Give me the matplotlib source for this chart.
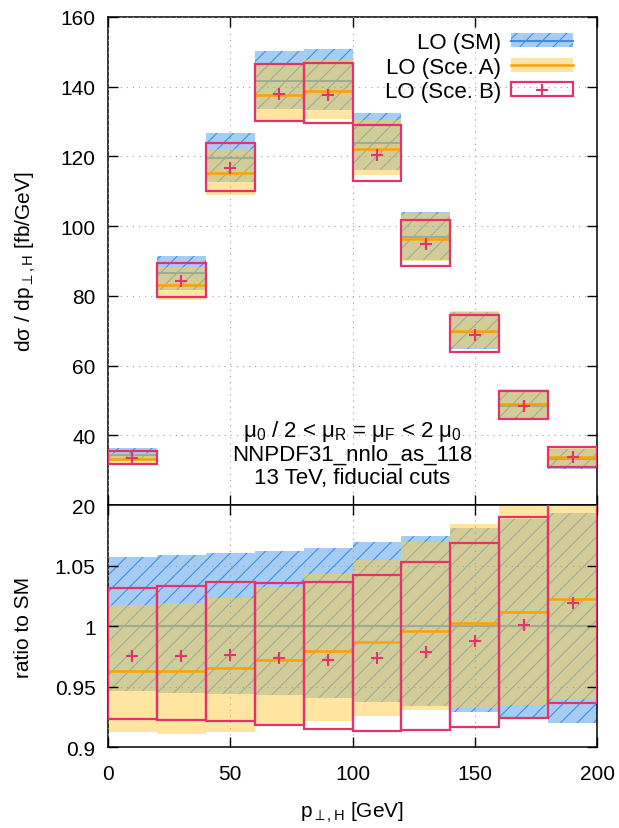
import numpy as np
import matplotlib
matplotlib.use('Agg')
import matplotlib.pyplot as plt
from matplotlib.patches import Patch
from matplotlib.lines import Line2D
from matplotlib.legend_handler import HandlerTuple

plt.rcParams['font.family'] = ['Liberation Sans', 'DejaVu Sans']
plt.rcParams['mathtext.fontset'] = 'custom'
plt.rcParams['mathtext.rm'] = 'Liberation Sans'
plt.rcParams['mathtext.it'] = 'Liberation Sans:italic'
plt.rcParams['mathtext.bf'] = 'Liberation Sans:bold'
plt.rcParams['hatch.linewidth'] = 0.8

# p_T,H bins [GeV]
edges = np.arange(0, 201, 20)

# SM central prediction per bin [fb/GeV]
sm_central = np.array([34.4, 86.5, 119.5, 141.6, 141.7, 123.8, 96.8, 69.7, 48.3, 33.1])

# scale variation bands, normalised to the SM central value
sm_hi = np.array([1.0568, 1.0587, 1.0603, 1.0620, 1.0647, 1.0691, 1.0741, 1.0807, 1.0884, 1.0934])
sm_lo = np.array([0.9465, 0.9446, 0.9438, 0.9430, 0.9405, 0.9375, 0.9336, 0.9292, 0.9242, 0.9198])

a_central = np.array([0.9628, 0.9625, 0.9650, 0.9719, 0.9791, 0.9868, 0.9956, 1.0027, 1.0116, 1.0223])
a_hi = np.array([1.0176, 1.0190, 1.0231, 1.0322, 1.0427, 1.0548, 1.0691, 1.0840, 1.1020, 1.1050])
a_lo = np.array([0.9121, 0.9105, 0.9121, 0.9188, 0.9218, 0.9259, 0.9306, 0.9320, 0.9350, 0.9397])

b_central = np.array([0.9749, 0.9755, 0.9763, 0.9738, 0.9722, 0.9736, 0.9788, 0.9874, 1.0008, 1.0190])
b_hi = np.array([1.0311, 1.0333, 1.0361, 1.0355, 1.0366, 1.0419, 1.0526, 1.0689, 1.0901, 1.1090])
b_lo = np.array([0.9231, 0.9220, 0.9215, 0.9185, 0.9149, 0.9130, 0.9138, 0.9162, 0.9240, 0.9364])

labels = ['LO (SM)', 'LO (Sce. A)', 'LO (Sce. B)']

blue_fc = (0.23, 0.56, 0.91, 0.45)
blue_ln = '#3d8fe3'
yellow_fc = (1.0, 0.80, 0.25, 0.5)
orange = '#ffa000'
pink = '#e2336b'
grid_kw = dict(color='#a0a0a0', lw=0.8, ls=(0, (1, 4.5)))


def draw(ax, norm):
    left = edges[:-1]
    w = np.diff(edges)
    ax.bar(left, (sm_hi - sm_lo) * norm, bottom=sm_lo * norm, width=w, align='edge',
           facecolor=blue_fc, edgecolor=blue_ln, hatch='//', linewidth=0, zorder=1)
    ax.hlines(norm * np.ones(len(left)), left, left + w, color=blue_ln, lw=1.5, zorder=1.1)
    ax.bar(left, (a_hi - a_lo) * norm, bottom=a_lo * norm, width=w, align='edge',
           facecolor=yellow_fc, linewidth=0, zorder=1.2)
    ax.hlines(a_central * norm, left, left + w, color=orange, lw=1.8, zorder=3)
    ax.bar(left, (b_hi - b_lo) * norm, bottom=b_lo * norm, width=w, align='edge',
           facecolor='none', edgecolor=pink, linewidth=1.6, zorder=3.1)
    ax.plot(left + w / 2, b_central * norm, '+', color=pink, ms=9, mew=1.5,
            ls='none', zorder=3.2)

    ax.set_xlim(0, 200)
    ax.set_xticks([0, 50, 100, 150, 200])
    ax.grid(True, zorder=2.5, **grid_kw)
    ax.set_axisbelow(False)
    ax.tick_params(direction='in', top=True, right=True, length=7, width=1,
                   labelsize=15, pad=9)
    for s in ax.spines.values():
        s.set_linewidth(1.1)


fig = plt.figure(figsize=(6.19, 8.29), dpi=100)
ax1 = fig.add_axes([0.1745, 0.3896, 0.7900, 0.5887])
ax2 = fig.add_axes([0.1745, 0.0977, 0.7900, 0.2919])

draw(ax1, sm_central)
ax1.set_ylim(20, 160)
ax1.set_yticks(np.arange(20, 161, 20))
ax1.tick_params(labelbottom=False)

draw(ax2, 1.0)
ax2.set_ylim(0.9, 1.1)
ax2.set_yticks([0.9, 0.95, 1.0, 1.05])
ax2.set_yticklabels(['0.9', '0.95', '1', '1.05'])
ax2.tick_params(axis='x', pad=12.5)

handles = [
    (Patch(facecolor=blue_fc, edgecolor=blue_ln, hatch='//', linewidth=0),
     Line2D([], [], color=blue_ln, lw=1.5)),
    (Patch(facecolor=yellow_fc, linewidth=0),
     Line2D([], [], color=orange, lw=1.8)),
    (Patch(facecolor='none', edgecolor=pink, linewidth=1.6),
     Line2D([], [], color=pink, marker='+', ls='none', ms=9, mew=1.5)),
]
ax1.legend(handles, labels, handler_map={tuple: HandlerTuple(ndivide=1)},
           loc='upper right', bbox_to_anchor=(0.951, 0.969), frameon=False,
           markerfirst=False, handlelength=2.8, handleheight=0.6,
           handletextpad=0.45, labelspacing=0.16, borderaxespad=0, borderpad=0,
           fontsize=16)

ax1.text(0.5, 0.142, r'μ$_0$ / 2 < μ$_\mathrm{R}$ = μ$_\mathrm{F}$ < 2 μ$_0$',
         transform=ax1.transAxes, ha='center', va='baseline', fontsize=16)
ax1.text(0.5, 0.0922, 'NNPDF31_nnlo_as_118', transform=ax1.transAxes,
         ha='center', va='baseline', fontsize=16)
ax1.text(0.5, 0.0451, '13 TeV, fiducial cuts', transform=ax1.transAxes,
         ha='center', va='baseline', fontsize=16)

fig.text(26 / 619, 1 - 262 / 829, r'dσ / dp$_{\perp,\mathrm{H}}$ [fb/GeV]',
         rotation=90, ha='center', va='center', fontsize=15)
fig.text(24 / 619, 1 - 627 / 829, 'ratio to SM', rotation=90,
         ha='center', va='center', fontsize=15)
fig.text(352 / 619, 1 - 813 / 829, r'p$_{\perp,\mathrm{H}}$ [GeV]',
         ha='center', va='center', fontsize=15)

fig.savefig('out.png', dpi=100)
